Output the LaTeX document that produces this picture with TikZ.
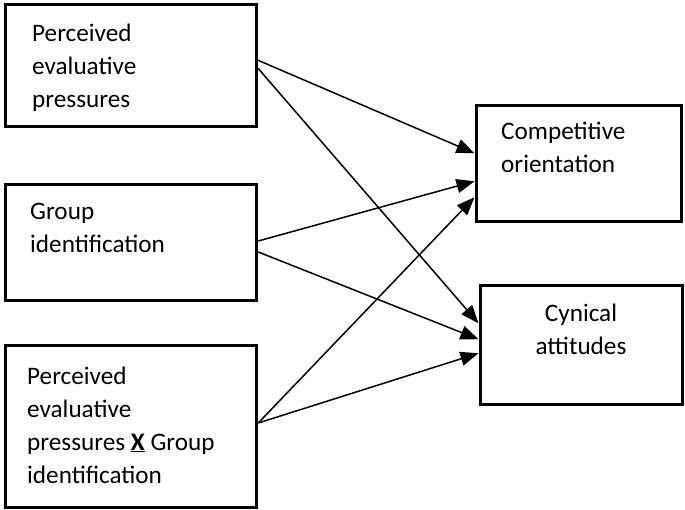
\documentclass[tikz,border=0pt]{standalone}
\usepackage{fontspec}
\setmainfont{Carlito}
\usetikzlibrary{arrows.meta}
\begin{document}
\begin{tikzpicture}[x=1pt,y=-1pt,
  box/.style={draw=black, line width=3pt, minimum width=#1, inner sep=0pt},
  lbl/.style={inner sep=0pt, align=left, font=\fontsize{25.2}{33}\selectfont},
  conn/.style={line width=1.5pt, -{Triangle[length=18pt,width=14pt]}}]
\useasboundingbox (0,0) rectangle (685,510);
\node[box=251pt, minimum height=122.5pt] (b1) at (131,65.75) {};
\node[box=251.5pt, minimum height=116pt] (b2) at (131,242.5) {};
\node[box=251.5pt, minimum height=161pt] (b3) at (131,426.5) {};
\node[box=205pt, minimum height=116.5pt] (b4) at (578.5,163.75) {};
\node[box=202pt, minimum height=118.5pt] (b5) at (581,344.75) {};
\node[lbl, anchor=base west] (t1) at (32,108) {Perceived\\evaluative\\pressures};
\node[lbl, anchor=base west] (t2) at (30,253) {Group\\identification};
\node[lbl, anchor=base west] (t3) at (27,483) {Perceived\\evaluative\\pressures \underline{\textbf{X}} Group\\identification};
\node[lbl, anchor=base west] (t4) at (501,173) {Competitive\\orientation};
\node[lbl, align=center, anchor=base] (t5) at (581,355) {Cynical\\attitudes};
\draw[conn] ([yshift=5.5pt]b1.east) -- ([yshift=10.5pt]b4.west);
\draw[conn] ([yshift=-2.5pt]b1.east) -- ([yshift=21.5pt]b5.west);
\draw[conn] ([yshift=1.5pt]b2.east) -- ([yshift=-17.5pt]b4.west);
\draw[conn] ([yshift=-9.5pt]b2.east) -- ([yshift=5.5pt]b5.west);
\draw[conn] ([yshift=3.5pt]b3.east) -- ([yshift=-33.5pt]b4.west);
\draw[conn] ([yshift=3.5pt]b3.east) -- ([yshift=-8.5pt]b5.west);
\end{tikzpicture}
\end{document}
